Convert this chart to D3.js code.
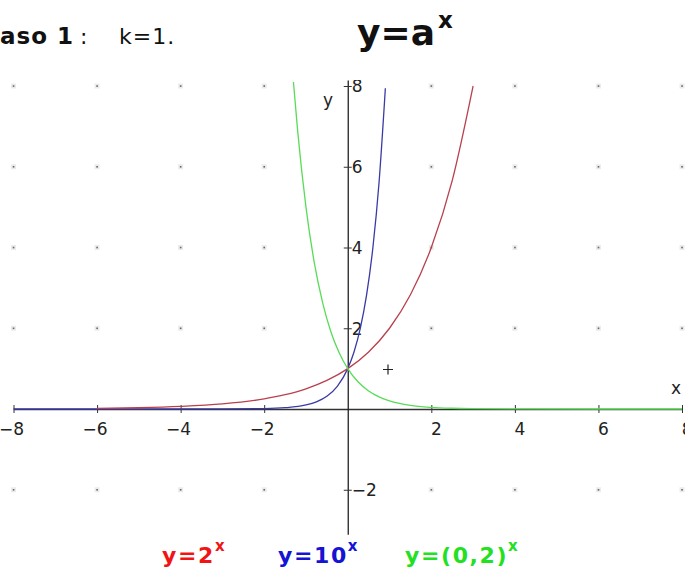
<!DOCTYPE html>
<html><head><meta charset="utf-8">
<script src="https://cdn.jsdelivr.net/npm/d3@7"></script>
<style>
html,body{margin:0;padding:0;background:#fff;overflow:hidden;}
svg{display:block;font-family:"DejaVu Sans",Verdana,sans-serif;}
</style></head>
<body><svg id="c" width="685" height="567"></svg>
<script>
// ---- data ----
const xTickValues = [-8, -6, -4, -2, 2, 4, 6, 8];
const xTickLabels = ["−8", "−6", "−4", "−2", "2", "4", "6", "8"];
const yTickValues = [-2, 2, 4, 6, 8];
const yTickLabels = ["−2", "2", "4", "6", "8"];
const gridX = [-8, -6, -4, -2, 0, 2, 4, 6, 8];
const gridY = [-2, 2, 4, 6, 8];

// y = 2^x
const redX = [-6, -5, -4, -3, -2, -1.5, -1, -0.5, 0, 0.5, 1, 1.5, 2, 2.5, 3];
const redY = [0.016, 0.031, 0.063, 0.125, 0.25, 0.354, 0.5, 0.707, 1, 1.414, 2, 2.828, 4, 5.657, 8];
// y = 10^x
const blueX = [-8, -3, -2, -1.5, -1, -0.75, -0.5, -0.25, 0, 0.15, 0.3, 0.45, 0.6, 0.75, 0.9];
const blueY = [0, 0.001, 0.01, 0.032, 0.1, 0.178, 0.316, 0.562, 1, 1.413, 1.995, 2.818, 3.981, 5.623, 7.943];
// y = (0,2)^x
const greenX = [-1.3, -1.2, -1, -0.8, -0.6, -0.4, -0.2, 0, 0.25, 0.5, 0.75, 1, 1.5, 2, 2.5, 3, 4, 8];
const greenY = [8.1, 6.9, 5, 3.62, 2.63, 1.9, 1.38, 1, 0.669, 0.447, 0.299, 0.2, 0.089, 0.04, 0.018, 0.008, 0.0016, 0];

const legendLabels = [
  {base: "y=2", sup: "x", color: "#f01414"},
  {base: "y=10", sup: "x", color: "#1414d2"},
  {base: "y=(0,2)", sup: "x", color: "#22e022"}
];

// ---- drawing ----
const svg = d3.select("#c");
const x = d3.scaleLinear().domain([-8, 8]).range([13.5, 682]);
const y = d3.scaleLinear().domain([0, 8]).range([409, 86]);

svg.append("defs").append("clipPath").attr("id", "plotclip")
  .append("rect").attr("x", 0).attr("y", 80).attr("width", 685).attr("height", 460);

const plot = svg.append("g").attr("clip-path", "url(#plotclip)");

// grid dots
gridY.forEach(gy => {
  gridX.forEach(gx => {
    if (gx === 0) return;
    plot.append("rect").attr("x", x(gx) - 2.5).attr("y", y(gy) - 2.5)
      .attr("width", 5).attr("height", 5).attr("fill", "#ebebeb");
    plot.append("rect").attr("x", x(gx) - 0.75).attr("y", y(gy) - 0.75)
      .attr("width", 1.6).attr("height", 1.6).attr("fill", "#666");
  });
});

// x axis
const xAxis = d3.axisBottom(x).tickValues(xTickValues)
  .tickFormat((d, i) => xTickLabels[i]).tickSizeOuter(0).tickSize(0);
const gx = plot.append("g").attr("transform", `translate(0,${y(0)})`).call(xAxis);
gx.select(".domain").attr("stroke", "#333").attr("stroke-width", 1.3);
gx.selectAll(".tick").append("line").attr("y1", -4).attr("y2", 4).attr("stroke", "#333");
gx.selectAll(".tick text").attr("font-size", 17).attr("fill", "#222")
  .attr("y", 14).attr("dy", "0.71em").attr("text-anchor", "end").attr("dx", 10)
  .attr("font-family", "DejaVu Sans, sans-serif");

// y axis
const yAxis = d3.axisRight(d3.scaleLinear().domain([-3.1, 8.15]).range([y(-3.1), y(8.15)]))
  .tickValues(yTickValues).tickFormat((d, i) => yTickLabels[i]).tickSizeOuter(0).tickSize(0);
const gy = plot.append("g").attr("transform", `translate(${x(0)},0)`).call(yAxis);
gy.select(".domain").attr("stroke", "#222").attr("stroke-width", 1.3);
gy.selectAll(".tick").append("line").attr("x1", -4).attr("x2", 4).attr("stroke", "#333");
gy.selectAll(".tick text").attr("font-size", 17).attr("fill", "#222")
  .attr("x", 4).attr("dy", "0.35em").attr("font-family", "DejaVu Sans, sans-serif");

// axis names
plot.append("text").attr("x", 328).attr("y", 106).attr("text-anchor", "middle")
  .attr("font-size", 17).attr("fill", "#222").text("y");
plot.append("text").attr("x", 676).attr("y", 394).attr("text-anchor", "middle")
  .attr("font-size", 17).attr("fill", "#222").text("x");

// curves
const line = d3.line().x(d => x(d[0])).y(d => y(d[1])).curve(d3.curveMonotoneX);
function drawCurve(xs, ys, color) {
  plot.append("path").datum(xs.map((v, i) => [v, ys[i]]))
    .attr("d", line).attr("fill", "none").attr("stroke", color).attr("stroke-width", 1.3);
}
drawCurve(blueX, blueY, "#3a3aa6");
drawCurve(redX, redY, "#b8404c");
drawCurve(greenX, greenY, "#58dc58");

// cursor cross
plot.append("path").attr("d", "M383,369.5h10M388,364.5v10").attr("stroke", "#222").attr("stroke-width", 1.2);

// titles
svg.append("text").attr("x", 0).attr("y", 44).attr("font-size", 23).attr("font-weight", "bold")
  .attr("letter-spacing", 1).attr("fill", "#111").text("aso 1");
svg.append("text").attr("x", 80).attr("y", 44).attr("font-size", 22).attr("fill", "#111").text(":");
svg.append("text").attr("x", 119).attr("y", 44).attr("font-size", 22).attr("letter-spacing", 1)
  .attr("fill", "#111").text("k=1.");

const t2 = svg.append("text").attr("x", 357).attr("y", 45).attr("font-size", 36)
  .attr("font-weight", "bold").attr("fill", "#111");
t2.append("tspan").text("y=a");
t2.append("tspan").attr("font-size", 23).attr("dy", -17).attr("dx", 3).text("x");

// legend
const legX = [162, 278, 405];
legendLabels.forEach((l, i) => {
  const t = svg.append("text").attr("x", legX[i]).attr("y", 563).attr("font-size", 22)
    .attr("font-weight", "bold").attr("letter-spacing", 1.6).attr("fill", l.color);
  t.append("tspan").text(l.base);
  t.append("tspan").attr("font-size", 15).attr("dy", -12).attr("dx", 0).text(l.sup);
});
</script></body></html>
